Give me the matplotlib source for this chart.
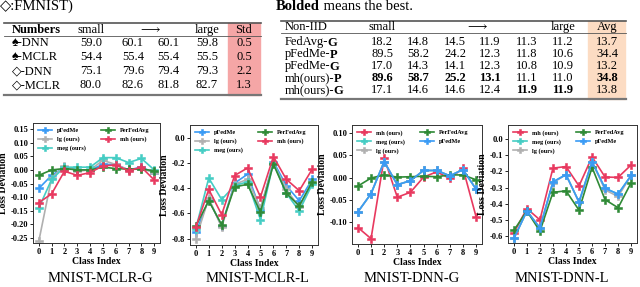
import matplotlib
matplotlib.use('Agg')
import matplotlib.pyplot as plt
from matplotlib.lines import Line2D
from matplotlib.patches import Rectangle

plt.rcParams['font.family'] = ['Liberation Serif', 'DejaVu Sans']
plt.rcParams['mathtext.fontset'] = 'custom'
plt.rcParams['mathtext.rm'] = 'Liberation Serif'
plt.rcParams['mathtext.bf'] = 'Liberation Serif:bold'

# ---------------- data ----------------
left_rows = ['♠-DNN', '♠-MCLR', '◇-DNN', '◇-MCLR']
left_vals = [[59.0, 60.1, 60.1, 59.8],
             [54.4, 55.4, 55.4, 55.5],
             [75.1, 79.6, 79.4, 79.3],
             [80.0, 82.6, 81.8, 82.7]]
left_std = [0.5, 0.5, 2.2, 1.3]

right_rows = [('FedAvg-', 'G'), ('pFedMe-', 'P'), ('pFedMe-', 'G'),
              ('mh(ours)-', 'P'), ('mh(ours)-', 'G')]
right_vals = [[18.2, 14.8, 14.5, 11.9, 11.3, 11.2],
              [89.5, 58.2, 24.2, 12.3, 11.8, 10.6],
              [17.0, 14.3, 14.1, 12.3, 10.8, 10.9],
              [89.6, 58.7, 25.2, 13.1, 11.1, 11.0],
              [17.1, 14.6, 14.6, 12.4, 11.9, 11.9]]
right_avg = [13.7, 34.4, 13.2, 34.8, 13.8]
right_bold = [[], [], [], [0, 1, 2, 3, 'avg'], [4, 5]]

class_idx = list(range(10))

# MNIST-MCLR-G
mclr_g = {
    'pFedMe':    [-0.068, -0.020, 0.010, 0.000, 0.000, 0.020, 0.020, 0.000, 0.010, -0.010],
    'lg (ours)': [-0.262, -0.030, 0.015, -0.005, 0.000, 0.035, 0.020, 0.000, 0.005, -0.010],
    'meg (ours)': [-0.140, -0.035, 0.010, 0.010, 0.010, 0.045, 0.045, 0.027, 0.042, 0.000],
    'PerFedAvg': [-0.020, 0.000, 0.005, 0.000, 0.000, 0.010, 0.005, 0.003, 0.003, -0.003],
    'mh (ours)': [-0.120, -0.088, -0.005, -0.020, -0.010, 0.015, 0.018, -0.003, 0.010, -0.037],
}
# MNIST-MCLR-L
mclr_l = {
    'pFedMe':    [-0.75, -0.49, -0.70, -0.36, -0.29, -0.57, -0.19, -0.38, -0.50, -0.33],
    'lg (ours)': [-0.80, -0.48, -0.71, -0.37, -0.33, -0.56, -0.20, -0.41, -0.55, -0.36],
    'meg (ours)': [-0.72, -0.32, -0.49, -0.38, -0.35, -0.65, -0.20, -0.44, -0.58, -0.37],
    'PerFedAvg': [-0.70, -0.50, -0.69, -0.39, -0.37, -0.59, -0.21, -0.44, -0.54, -0.35],
    'mh (ours)': [-0.71, -0.41, -0.61, -0.30, -0.24, -0.47, -0.15, -0.33, -0.42, -0.25],
}
# MNIST-DNN-G
dnn_g = {
    'mh (ours)': [-0.112, -0.137, 0.044, -0.044, -0.033, 0.001, 0.013, -0.002, 0.021, -0.088],
    'meg (ours)': [-0.077, -0.036, 0.036, -0.016, -0.007, 0.016, 0.016, 0.004, 0.018, -0.026],
    'lg (ours)': [-0.077, -0.036, 0.036, -0.016, -0.007, 0.016, 0.016, 0.004, 0.018, -0.026],
    'PerFedAvg': [-0.019, -0.001, 0.006, 0.001, 0.002, 0.003, 0.002, 0.006, 0.006, -0.005],
    'pFedMe':    [-0.077, -0.036, 0.036, -0.016, -0.007, 0.016, 0.016, 0.004, 0.018, -0.026],
}
# MNIST-DNN-L
dnn_l = {
    'mh (ours)': [-0.58, -0.43, -0.50, -0.18, -0.17, -0.29, -0.11, -0.235, -0.237, -0.16],
    'meg (ours)': [-0.615, -0.445, -0.55, -0.265, -0.22, -0.39, -0.14, -0.305, -0.34, -0.225],
    'lg (ours)': [-0.615, -0.445, -0.55, -0.27, -0.22, -0.39, -0.14, -0.315, -0.355, -0.225],
    'PerFedAvg': [-0.565, -0.445, -0.57, -0.33, -0.32, -0.44, -0.175, -0.375, -0.425, -0.27],
    'pFedMe':    [-0.615, -0.445, -0.55, -0.265, -0.22, -0.39, -0.14, -0.305, -0.34, -0.225],
}

colors = {'pFedMe': '#3a9bf5', 'lg (ours)': '#b0b0b0', 'meg (ours)': '#45cdc4',
          'PerFedAvg': '#2f8a36', 'mh (ours)': '#e8395f'}

panels = [
    ('MNIST-MCLR-G', mclr_g, [33, 123, 160, 243], (-0.268, 0.172),
     [0.15, 0.10, 0.05, 0.00, -0.05, -0.10, -0.15, -0.20, -0.25], '{:.2f}', 100),
    ('MNIST-MCLR-L', mclr_l, [190, 125, 318, 245], (-0.85, 0.10),
     [0.0, -0.2, -0.4, -0.6, -0.8], '{:.1f}', 258),
    ('MNIST-DNN-G', dnn_g, [352, 125, 482, 244], (-0.149, 0.118),
     [0.10, 0.05, 0.00, -0.05, -0.10], '{:.2f}', 412),
    ('MNIST-DNN-L', dnn_l, [508, 125, 637, 243], (-0.643, 0.087),
     [0.0, -0.1, -0.2, -0.3, -0.4, -0.5, -0.6], '{:.1f}', 562),
]

# ---------------- figure ----------------
W, H = 640, 287
fig = plt.figure(figsize=(6.4, 2.87), dpi=100)
renderer = fig.canvas.get_renderer()


def fx(x):
    return x / W


def fy(y):
    return 1 - y / H


def hline(x0, x1, y, lw=1.0, color='#555555'):
    fig.add_artist(Line2D([fx(x0), fx(x1)], [fy(y), fy(y)], transform=fig.transFigure,
                          color=color, lw=lw))


# header texts
fig.text(fx(0), fy(10), '◇:FMNIST)', fontsize=10.5, va='baseline', ha='left')
tb = fig.text(fx(276), fy(10), 'Bolded', fontsize=10.5, fontweight='bold',
              va='baseline', ha='left')
bw = tb.get_window_extent(renderer).width
fig.text(fx(276 + bw), fy(10), ' means the best.', fontsize=10.5, va='baseline', ha='left')

TFS = 9
# ---- left table ----
fig.add_artist(Rectangle((fx(228), fy(95)), fx(260) - fx(228), fy(23) - fy(95),
                         transform=fig.transFigure, color='#f5a6a6', zorder=0))
hline(4, 261, 23, lw=1.2)
hline(4, 261, 36, lw=0.6)
hline(4, 261, 95, lw=1.6, color='#777777')
lcols = [91, 133, 168, 207]
hy = 30
fig.text(fx(12), fy(hy), 'Numbers', fontsize=TFS, fontweight='bold', va='center')
fig.text(fx(lcols[0]), fy(hy), 'small', fontsize=TFS, va='center', ha='center')
fig.text(fx(150), fy(hy), r'$\longrightarrow$', fontsize=TFS, va='center', ha='center')
fig.text(fx(lcols[3]), fy(hy), 'large', fontsize=TFS, va='center', ha='center')
fig.text(fx(244), fy(hy), 'Std', fontsize=TFS, va='center', ha='center')
for i, (lab, vals, sd) in enumerate(zip(left_rows, left_vals, left_std)):
    y = 43 + 14 * i
    fig.text(fx(12), fy(y), lab, fontsize=TFS, va='center', ha='left')
    for cx, v in zip(lcols, vals):
        fig.text(fx(cx), fy(y), f'{v:.1f}', fontsize=TFS, va='center', ha='center')
    fig.text(fx(244), fy(y), f'{sd:.1f}', fontsize=TFS, va='center', ha='center')

# ---- right table ----
fig.add_artist(Rectangle((fx(588), fy(99)), fx(625) - fx(588), fy(21) - fy(99),
                         transform=fig.transFigure, color='#fcdcc3', zorder=0))
hline(281, 626, 21, lw=1.2)
hline(281, 626, 33, lw=0.6)
hline(281, 626, 99, lw=1.6, color='#777777')
rcols = [382, 418, 455, 490, 527, 563]
hy = 27
fig.text(fx(285), fy(hy), 'Non-IID', fontsize=TFS, va='center')
fig.text(fx(rcols[0]), fy(hy), 'small', fontsize=TFS, va='center', ha='center')
fig.text(fx(477), fy(hy), r'$\longrightarrow$', fontsize=TFS, va='center', ha='center')
fig.text(fx(rcols[5]), fy(hy), 'large', fontsize=TFS, va='center', ha='center')
fig.text(fx(607), fy(hy), 'Avg', fontsize=TFS, va='center', ha='center')
for i, ((pre, suf), vals, av) in enumerate(zip(right_rows, right_vals, right_avg)):
    y = 42 + 12 * i
    tp = fig.text(fx(285), fy(y + 3.5), pre, fontsize=TFS, va='baseline', ha='left')
    pw = tp.get_window_extent(renderer).width
    fig.text(fx(285 + pw - 1.2), fy(y + 3.5), suf, fontsize=TFS, fontweight='bold',
             va='baseline', ha='left')
    for j, (cx, v) in enumerate(zip(rcols, vals)):
        w = 'bold' if j in right_bold[i] else 'normal'
        fig.text(fx(cx), fy(y), f'{v:.1f}', fontsize=TFS, va='center', ha='center', fontweight=w)
    w = 'bold' if 'avg' in right_bold[i] else 'normal'
    fig.text(fx(607), fy(y), f'{av:.1f}', fontsize=TFS, va='center', ha='center', fontweight=w)

# ---- line panels ----
for title, data, (l, t, r, b), ylim, yticks, fmt, capx in panels:
    ax = fig.add_axes([fx(l), fy(b), fx(r) - fx(l), fy(t) - fy(b)])
    for name, vals in data.items():
        ax.plot(class_idx, vals, color=colors[name], marker='P', markersize=5.5,
                lw=1.2, label=name, markeredgewidth=0.4)
    ax.set_ylim(*ylim)
    ax.set_xlim(-0.45, 9.45)
    ax.set_xticks(class_idx)
    ax.set_xticklabels([str(c) for c in class_idx], fontsize=6, fontweight='bold')
    ax.set_yticks(yticks)
    ax.set_yticklabels([fmt.format(v) for v in yticks], fontsize=6, fontweight='bold')
    ax.tick_params(length=2, width=0.6, pad=1.5)
    for s in ax.spines.values():
        s.set_linewidth(0.7)
        s.set_color('#333333')
    ax.set_ylabel('Loss Deviation', fontsize=7, fontweight='bold', labelpad=2)
    ax.set_xlabel('Class Index', fontsize=7, fontweight='bold', labelpad=1)
    ax.legend(ncol=2, loc='upper left', frameon=False,
              prop={'size': 4.5, 'weight': 'bold'}, handlelength=2.2,
              columnspacing=2.5, labelspacing=0.5, borderaxespad=0.4, markerscale=0.8)
    fig.text(fx(capx), fy(279), title, fontsize=10.5, ha='center', va='center')

fig.savefig('out.png', dpi=100)
